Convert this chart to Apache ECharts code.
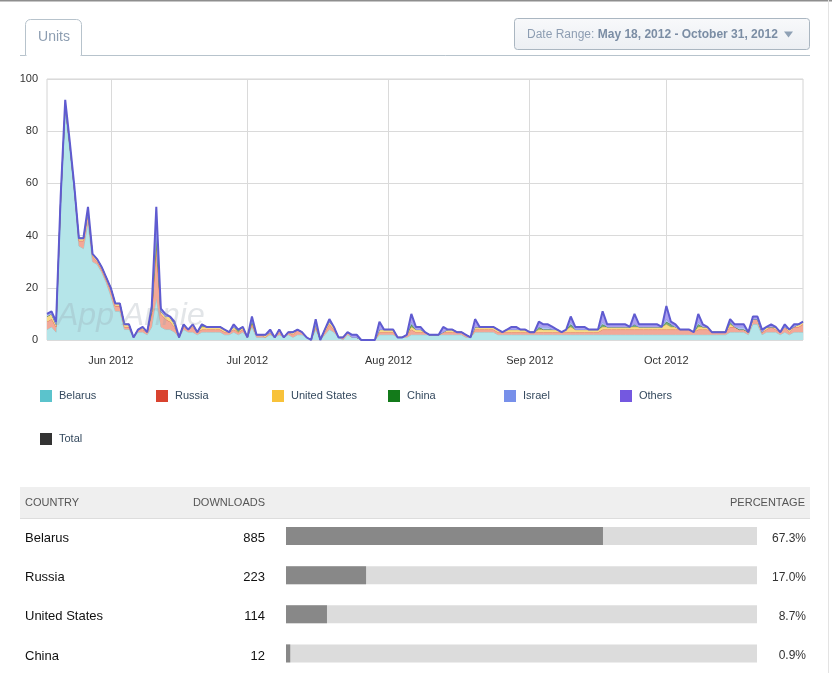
<!DOCTYPE html>
<html><head><meta charset="utf-8">
<script src="https://cdn.jsdelivr.net/npm/echarts@6/dist/echarts.min.js"></script>
<style>html,body{margin:0;padding:0;background:#fff;}#c{width:832px;height:673px;}</style>
</head><body><div id="c"></div>
<script>
// ---- data ----
const startDate = [2012, 4, 18]; // May 18, 2012
const dayCount = 167;             // through Oct 31, 2012
const belarus = [
 4,5,3,52,88,73,57,36,35,45, 30,29,26,22,17,11,11,4,4,1, 3,3,2,5,16,5,4,4,3,1,
 4,3,3,2,3,3,3,3,3,2, 2,3,2,3,1,5,1,1,1,2, 1,2,1,2,1,2,2,1,0,4, 0,2,4,3,1,0,2,1,1,0,
 0,0,0,2,2,2,2,1,1,1, 2,2,2,2,2,2,2,2,2,2, 2,2,1,1,3,3,3,3,3,2, 2,2,2,2,2,2,2,2,2,2,
 2,2,2,2,2,2,2,2,2,2, 2,2,2,2,2,2,2,2,2,2, 2,2,2,2,2,2,2,2,2,2, 2,2,2,2,2,2,2,2,2,2,
 3,3,3,3,2,6,6,2,3,3, 3,2,3,2,3,3,3];
const russia = [
 3,3,2,2,2,2,1,2,3,4, 2,1,1,1,2,2,2,1,1,0, 1,1,1,5,20,5,4,3,2,0,
 1,1,2,1,1,1,1,1,1,1, 1,1,1,1,0,1,1,1,0,1, 0,1,0,1,1,2,1,0,0,1, 0,1,2,1,0,1,1,0,0,0,
 0,0,0,1,1,1,1,0,0,1, 2,1,1,1,0,0,0,1,1,1, 1,1,1,0,1,1,1,1,1,1, 1,1,1,1,1,1,1,1,1,1,
 1,1,1,1,1,1,1,1,1,1, 1,1,2,2,2,2,2,2,2,2, 2,2,2,2,2,2,2,2,2,2, 2,2,1,2,2,2,1,1,1,1,
 2,2,1,1,1,2,2,1,1,2, 1,1,2,1,2,2,3];
const unitedStates = [
 2,2,1,0,0,0,0,1,1,0, 1,1,1,1,1,1,1,1,1,0, 0,1,0,1,2,1,1,2,1,0,
 1,0,1,0,1,1,1,1,1,1, 0,1,0,1,0,1,0,0,1,0, 0,1,0,0,1,0,0,0,0,1, 0,1,1,1,0,0,0,0,0,0,
 0,0,0,1,1,1,1,0,0,0, 1,1,1,0,0,0,0,0,1,1, 0,0,0,0,1,1,1,1,1,1, 0,1,1,1,1,1,0,0,1,1,
 1,1,1,0,1,2,1,1,1,1, 1,1,1,1,1,1,1,1,1,1, 1,1,1,1,1,1,2,1,1,0, 0,0,0,1,1,1,0,0,0,0,
 1,0,0,0,0,0,0,0,1,0, 1,0,0,1,0,1,1];
const china = [
 0,0,0,0,0,0,0,0,0,0, 0,0,0,0,0,0,0,0,0,0, 0,0,0,0,1,0,0,0,0,0,
 0,0,0,0,1,0,0,0,0,0, 0,0,1,0,0,0,0,0,0,0, 0,0,0,0,0,0,0,0,0,0, 0,0,0,0,0,0,0,0,0,0,
 0,0,0,0,0,0,0,0,0,0, 1,0,0,0,0,0,0,0,0,0, 0,0,0,0,0,0,0,0,0,0, 0,0,0,0,0,0,0,0,1,0,
 0,0,0,0,0,1,0,0,0,0, 0,0,1,0,0,0,0,0,0,1, 0,0,0,0,0,0,1,1,0,0, 0,0,0,1,0,0,0,0,0,0,
 1,0,0,0,0,0,0,0,0,0, 0,0,0,0,0,0,0];
const israel = [
 1,0,0,0,0,0,0,0,0,0, 0,0,0,0,0,0,0,0,0,0, 0,0,0,1,3,0,0,0,0,0,
 0,0,0,0,0,0,0,0,0,0, 0,0,0,0,0,1,0,0,0,0, 0,0,0,0,0,0,0,0,0,0, 0,0,0,0,0,0,0,0,0,0,
 0,0,0,0,0,0,0,0,0,0, 1,0,0,0,0,0,0,0,0,0, 0,0,0,0,0,0,0,0,0,0, 0,0,0,0,0,0,0,0,0,1,
 1,0,0,0,0,1,0,0,0,0, 0,0,1,0,0,0,0,0,0,0, 0,0,0,0,0,0,1,0,0,0, 0,0,0,1,0,0,0,0,0,0,
 0,0,1,1,0,0,0,0,0,0, 0,0,0,0,0,0,0];
const others = [
 0,1,1,1,2,1,1,0,0,2, 0,0,0,0,0,0,0,0,0,0, 0,0,0,1,9,1,1,0,1,0,
 0,0,0,0,0,0,0,0,0,0, 0,1,0,0,0,1,0,0,0,1, 0,0,0,0,0,0,0,0,0,2, 0,0,1,0,0,0,0,1,1,0,
 0,0,0,3,0,0,0,0,0,0, 3,1,1,0,0,0,0,2,0,0, 0,0,0,0,3,0,0,0,0,0, 0,0,1,1,0,0,0,0,2,1,
 1,1,0,0,0,2,1,1,1,0, 0,0,4,1,1,1,1,1,0,4, 1,1,1,1,1,0,5,1,1,0, 0,0,0,3,1,0,0,0,0,0,
 1,1,1,1,0,1,1,1,0,1, 0,0,1,0,1,0,0];
const seriesNames = ['Belarus','Russia','United States','China','Israel','Others','Total'];
const countries = ['Belarus','Russia','United States','China'];
const downloads = [885, 223, 114, 12];
const percentages = [67.3, 17.0, 8.7, 0.9];
const yTicks = [0, 20, 40, 60, 80, 100];

// ---- build ----
const MONTHS = ['Jan','Feb','Mar','Apr','May','Jun','Jul','Aug','Sep','Oct','Nov','Dec'];
const dates = [];
for (let i = 0; i < dayCount; i++) {
  const d = new Date(Date.UTC(startDate[0], startDate[1], startDate[2] + i));
  dates.push(d.getUTCFullYear() + '-' + String(d.getUTCMonth() + 1).padStart(2, '0') + '-' + String(d.getUTCDate()).padStart(2, '0'));
}
const isMonthStart = (idx, val) => String(val).endsWith('-01');
const FONT = '"Helvetica Neue", "Liberation Sans", Arial, sans-serif';

const styles = [
  {legend:'#5bc3cc', line:'#8ccfd5', area:'#b5e5e9', w:1},
  {legend:'#d9432f', line:'#e0735f', area:'#f2a898', w:1},
  {legend:'#f8c23a', line:'#e9b84a', area:'#f7da88', w:1},
  {legend:'#137a1a', line:'#3a7e3a', area:'#78ab78', w:1},
  {legend:'#7890ea', line:'#8198e8', area:'#b3c0f2', w:1},
  {legend:'#7458e0', line:'#5f5bd0', area:'#ab9ff0', w:2},
  {legend:'#333333', line:'#333333', area:'#333333', w:1}
];
const values = [belarus, russia, unitedStates, china, israel, others, []];

const areaSeries = seriesNames.map((name, i) => {
  const s = {
    name, type: 'line', xAxisIndex: 0, yAxisIndex: 0,
    data: values[i], symbol: 'none', showSymbol: false, smooth: false,
    itemStyle: {color: styles[i].legend},
    lineStyle: {color: styles[i].line, width: styles[i].w},
    emphasis: {disabled: true}, silent: true, z: 2 + i
  };
  if (i < 6) { s.stack = 'total'; s.areaStyle = {color: styles[i].area, opacity: 1}; }
  return s;
});

// one legend block per entry: six on the first row, "Total" on the second
const legends = seriesNames.map((name, i) => ({
  data: [{name, itemStyle: {color: styles[i].legend, borderWidth: 0}, lineStyle: {width: 0}}],
  left: 40 + (i < 6 ? i : 0) * 116, top: i < 6 ? 390 : 433, padding: 0,
  icon: 'rect', itemWidth: 12, itemHeight: 12, selectedMode: false,
  textStyle: {fontSize: 11, color: '#34495e', fontFamily: FONT, padding: [3, 0, 0, 2]}
}));

const tableLabel = (extra) => Object.assign({verticalAlign: 'top', lineHeight: 5, fontSize: 13, color: '#111'}, extra);

const chart = echarts.init(document.getElementById('c'), null, {renderer: 'canvas'});
chart.setOption({
  animation: false,
  backgroundColor: '#fff',
  textStyle: {fontFamily: FONT},
  grid: [
    {left: 47, top: 79, width: 756, height: 261, show: true, borderColor: '#d4d4d4', borderWidth: 1, backgroundColor: 'transparent'},
    {left: 286, top: 516.4, width: 471, height: 157.2}
  ],
  legend: legends,
  xAxis: [
    {type: 'category', gridIndex: 0, data: dates, boundaryGap: false,
     axisLine: {show: false}, axisTick: {show: false, interval: isMonthStart},
     axisLabel: {interval: isMonthStart, margin: 15, fontSize: 11, color: '#333',
       formatter: v => MONTHS[+v.slice(5, 7) - 1] + ' ' + v.slice(0, 4)},
     splitLine: {show: true, interval: isMonthStart, lineStyle: {color: '#dadada', width: 1}}},
    {type: 'value', gridIndex: 1, min: 0, max: 100, show: false}
  ],
  yAxis: [
    {type: 'value', gridIndex: 0, min: yTicks[0], max: yTicks[yTicks.length - 1], interval: 20,
     axisLine: {show: false}, axisTick: {show: false},
     axisLabel: {fontSize: 11, color: '#333', margin: 9},
     splitLine: {lineStyle: {color: '#dadada', width: 1}}},
    {type: 'category', gridIndex: 1, data: countries, inverse: true, position: 'left',
     axisLine: {show: false}, axisTick: {show: false},
     axisLabel: tableLabel({align: 'left', margin: 261})},
    {type: 'category', gridIndex: 1, data: countries, inverse: true, position: 'left',
     axisLine: {show: false}, axisTick: {show: false},
     axisLabel: tableLabel({align: 'right', margin: 21, formatter: (v, i) => String(downloads[i])})},
    {type: 'category', gridIndex: 1, data: countries, inverse: true, position: 'right',
     axisLine: {show: false}, axisTick: {show: false},
     axisLabel: tableLabel({align: 'right', margin: 49, fontSize: 12, color: '#333',
       formatter: (v, i) => percentages[i].toFixed(1) + '%'})}
  ],
  series: areaSeries.concat([{
    name: 'share', type: 'bar', xAxisIndex: 1, yAxisIndex: 1, data: percentages,
    barWidth: 18, itemStyle: {color: '#888888'}, showBackground: true,
    backgroundStyle: {color: '#dcdcdc'}, silent: true, legendHoverLink: false
  }]),
  graphic: [
    {type: 'rect', shape: {x: 0, y: 0, width: 832, height: 1.5}, style: {fill: '#8e8e8e'}, silent: true},
    {type: 'line', shape: {x1: 828.5, y1: 0, x2: 828.5, y2: 673}, style: {stroke: '#e3e3e3', lineWidth: 1}, silent: true},
    {type: 'rect', shape: {x: 25.5, y: 19.5, width: 56, height: 36, r: [5, 5, 0, 0]},
     style: {stroke: '#b7c3cc', fill: '#fff', lineWidth: 1}, silent: true},
    {type: 'line', shape: {x1: 20, y1: 55.5, x2: 25.5, y2: 55.5}, style: {stroke: '#b7c3cc', lineWidth: 1}, silent: true},
    {type: 'line', shape: {x1: 81.5, y1: 55.5, x2: 810, y2: 55.5}, style: {stroke: '#b7c3cc', lineWidth: 1}, silent: true},
    {type: 'line', shape: {x1: 26.5, y1: 55.5, x2: 80.5, y2: 55.5}, style: {stroke: '#ffffff', lineWidth: 1.5}, silent: true},
    {type: 'text', x: 54, y: 37, style: {text: 'Units', fontSize: 14, fill: '#8c9db1', align: 'center', verticalAlign: 'middle', fontFamily: FONT}, silent: true},
    {type: 'rect', shape: {x: 514.5, y: 18.5, width: 295, height: 31, r: 3},
     style: {fill: {type: 'linear', x: 0, y: 0, x2: 0, y2: 1, colorStops: [{offset: 0, color: '#f8f9fb'}, {offset: 1, color: '#eceff3'}]}, stroke: '#aab6c1', lineWidth: 1}, silent: true},
    {type: 'text', x: 527, y: 34.5, style: {text: '{a|Date Range: }{b|May 18, 2012 - October 31, 2012}', verticalAlign: 'middle', fontFamily: FONT, fill: '#8a9bb0',
      rich: {a: {fontSize: 12, fill: '#8d9db2', fontFamily: FONT}, b: {fontSize: 12, fill: '#7b8da4', fontWeight: 'bold', fontFamily: FONT}}}, silent: true},
    {type: 'polygon', shape: {points: [[784, 31.5], [793, 31.5], [788.5, 37.5]]}, style: {fill: '#8fa1b5'}, silent: true},
    {type: 'text', x: 57, y: 316, z: 50, style: {text: 'App Annie', fontSize: 32, fontStyle: 'italic', fill: 'rgba(150,160,172,0.28)', verticalAlign: 'middle', fontFamily: FONT}, silent: true},
    {type: 'rect', shape: {x: 20, y: 487, width: 790, height: 31}, style: {fill: '#efefef'}, silent: true},
    {type: 'line', shape: {x1: 20, y1: 518.5, x2: 810, y2: 518.5}, style: {stroke: '#dddddd', lineWidth: 1}, silent: true},
    {type: 'text', x: 25, y: 502.5, style: {text: 'COUNTRY', fontSize: 11, fill: '#555', verticalAlign: 'middle', fontFamily: FONT}, silent: true},
    {type: 'text', x: 265, y: 502.5, style: {text: 'DOWNLOADS', fontSize: 11, fill: '#555', align: 'right', verticalAlign: 'middle', fontFamily: FONT}, silent: true},
    {type: 'text', x: 805, y: 502.5, style: {text: 'PERCENTAGE', fontSize: 11, fill: '#555', align: 'right', verticalAlign: 'middle', fontFamily: FONT}, silent: true}
  ]
});
</script></body></html>
